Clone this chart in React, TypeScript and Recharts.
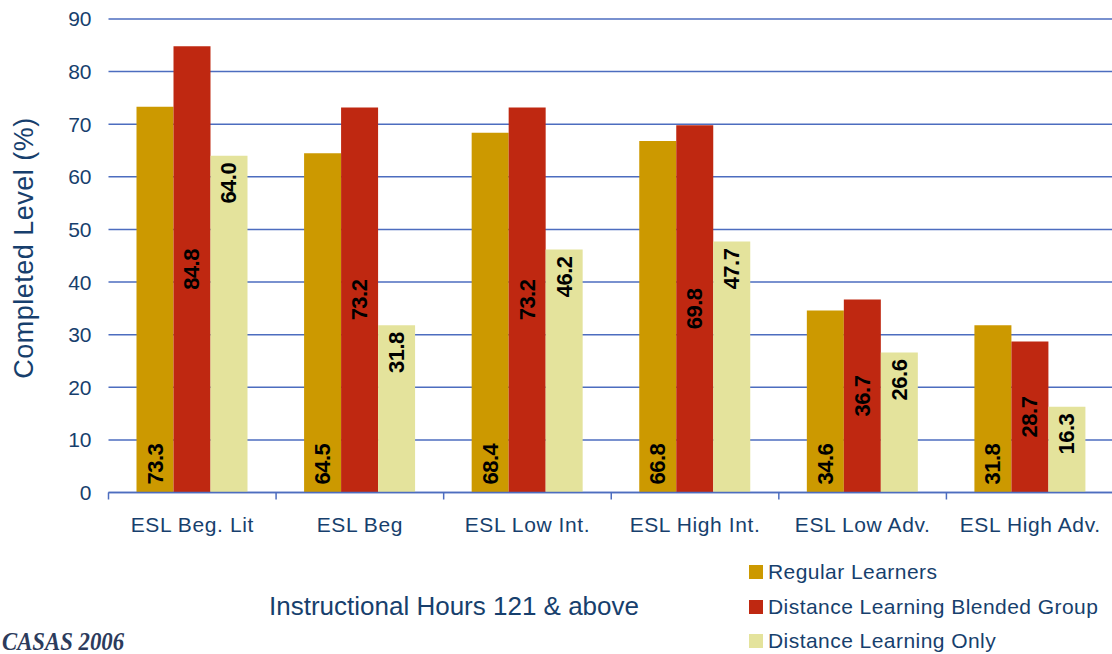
import { Bar, BarChart, CartesianGrid, LabelList, Legend, XAxis, YAxis } from "recharts";

const categories = ["ESL Beg. Lit", "ESL Beg", "ESL Low Int.", "ESL High Int.", "ESL Low Adv.", "ESL High Adv."];
const regularLearners = [73.3, 64.5, 68.4, 66.8, 34.6, 31.8];
const blendedGroup = [84.8, 73.2, 73.2, 69.8, 36.7, 28.7];
const distanceOnly = [64.0, 31.8, 46.2, 47.7, 26.6, 16.3];
const seriesNames = ["Regular Learners", "Distance Learning Blended Group", "Distance Learning Only"];
const yTicks = [0, 10, 20, 30, 40, 50, 60, 70, 80, 90];

const data = categories.map((name, i) => ({
  name,
  regular: regularLearners[i],
  blended: blendedGroup[i],
  only: distanceOnly[i],
}));

const W = 1112;
const H = 654;
const MARGIN = { top: 19, right: -2, bottom: 131.5, left: 0 };
const Y_AXIS_W = 108.5;
const X_AXIS_H = 30;
const PLOT_BOTTOM = H - MARGIN.bottom - X_AXIS_H;
const BAND = (W - MARGIN.right - Y_AXIS_W) / categories.length;

const NAVY = "#173f6d";
const GRID = "#4d6dbf";
const FONT = "'Liberation Sans', Arial, sans-serif";

function XTick(props: any) {
  const { x, y, payload, index } = props;
  const half = BAND / 2;
  return (
    <g>
      <line x1={x - half} x2={x - half} y1={PLOT_BOTTOM} y2={PLOT_BOTTOM + 7} stroke={GRID} strokeWidth={1.5} />
      {index === categories.length - 1 && (
        <line x1={x + half} x2={x + half} y1={PLOT_BOTTOM} y2={PLOT_BOTTOM + 7} stroke={GRID} strokeWidth={1.5} />
      )}
      <text
        x={x}
        y={y}
        dy="0.71em"
        textAnchor="middle"
        fill={NAVY}
        fontSize={21}
        letterSpacing={0.6}
        fontFamily={FONT}
      >
        {payload.value}
      </text>
    </g>
  );
}

// rotated value labels: bottom / middle / top of the bar
const barLabel = (where: "bottom" | "middle" | "top") => (props: any) => {
  const { x, y, width, height, value } = props;
  const cx = Number(x) + Number(width) / 2;
  let ty = Number(y) + Number(height) / 2;
  let anchor: "start" | "middle" | "end" = "middle";
  if (where === "bottom") {
    ty = Number(y) + Number(height) - 8;
    anchor = "start";
  } else if (where === "top") {
    ty = Number(y) + 7;
    anchor = "end";
  }
  return (
    <text
      x={cx}
      y={ty}
      transform={`rotate(-90 ${cx} ${ty})`}
      textAnchor={anchor}
      dominantBaseline="central"
      fontSize={22}
      letterSpacing={-0.5}
      fontWeight="bold"
      fontFamily={FONT}
      fill="#000"
    >
      {Number(value).toFixed(1)}
    </text>
  );
};

function LegendBox({ payload }: any) {
  const items = [...(payload ?? [])].sort(
    (a: any, b: any) => seriesNames.indexOf(a.value) - seriesNames.indexOf(b.value)
  );
  return (
    <div style={{ fontFamily: FONT }}>
      {items.map((p: any) => (
        <div key={p.value} style={{ display: "flex", alignItems: "center", height: 34.5 }}>
          <span style={{ width: 14, height: 14, background: p.color, marginRight: 5, display: "inline-block" }} />
          <span style={{ fontSize: 21, letterSpacing: 0.45, color: NAVY }}>{p.value}</span>
        </div>
      ))}
    </div>
  );
}

export default function App() {
  return (
    <div style={{ position: "absolute", left: 0, top: 0, width: W, height: H, background: "#fff", fontFamily: FONT }}>
      <BarChart width={W} height={H} data={data} margin={MARGIN} barSize={37} barGap={0}>
        <CartesianGrid horizontal vertical={false} stroke={GRID} strokeWidth={1.5} />
        <XAxis
          dataKey="name"
          height={X_AXIS_H}
          axisLine={{ stroke: GRID, strokeWidth: 1.5 }}
          tickLine={false}
          tickSize={6}
          tickMargin={18.5}
          tick={<XTick />}
          interval={0}
        />
        <YAxis
          width={Y_AXIS_W}
          domain={[0, 90]}
          ticks={yTicks}
          axisLine={false}
          tickLine={false}
          tickSize={0}
          tickMargin={17}
          tick={{ fill: NAVY, fontSize: 21, fontFamily: FONT }}
        />
        <Legend
          layout="vertical"
          align="center"
          verticalAlign="middle"
          content={<LegendBox />}
          wrapperStyle={{ left: 749, top: 555, width: 362 }}
        />
        <Bar dataKey="regular" name={seriesNames[0]} fill="#cc9900" isAnimationActive={false}>
          <LabelList dataKey="regular" content={barLabel("bottom")} />
        </Bar>
        <Bar dataKey="blended" name={seriesNames[1]} fill="#bf2811" isAnimationActive={false}>
          <LabelList dataKey="blended" content={barLabel("middle")} />
        </Bar>
        <Bar dataKey="only" name={seriesNames[2]} fill="#e4e39c" isAnimationActive={false}>
          <LabelList dataKey="only" content={barLabel("top")} />
        </Bar>
      </BarChart>

      <div
        style={{
          position: "absolute",
          left: 24,
          top: 248,
          transform: "translate(-50%, -50%) rotate(-90deg)",
          whiteSpace: "nowrap",
          fontSize: 27,
          letterSpacing: 0.5,
          lineHeight: 1,
          color: NAVY,
        }}
      >
        Completed Level (%)
      </div>

      <div
        style={{
          position: "absolute",
          left: 454,
          top: 606,
          transform: "translate(-50%, -50%)",
          whiteSpace: "nowrap",
          fontSize: 26,
          lineHeight: 1,
          color: NAVY,
        }}
      >
        Instructional Hours 121 &amp; above
      </div>

      <div
        style={{
          position: "absolute",
          left: 2,
          top: 629,
          fontFamily: "'Liberation Serif', 'DejaVu Serif', serif",
          fontStyle: "italic",
          fontWeight: "bold",
          fontSize: 26,
          lineHeight: 1,
          color: "#2c3b5c",
          transform: "scaleX(0.875)",
          transformOrigin: "left center",
        }}
      >
        CASAS 2006
      </div>
    </div>
  );
}
